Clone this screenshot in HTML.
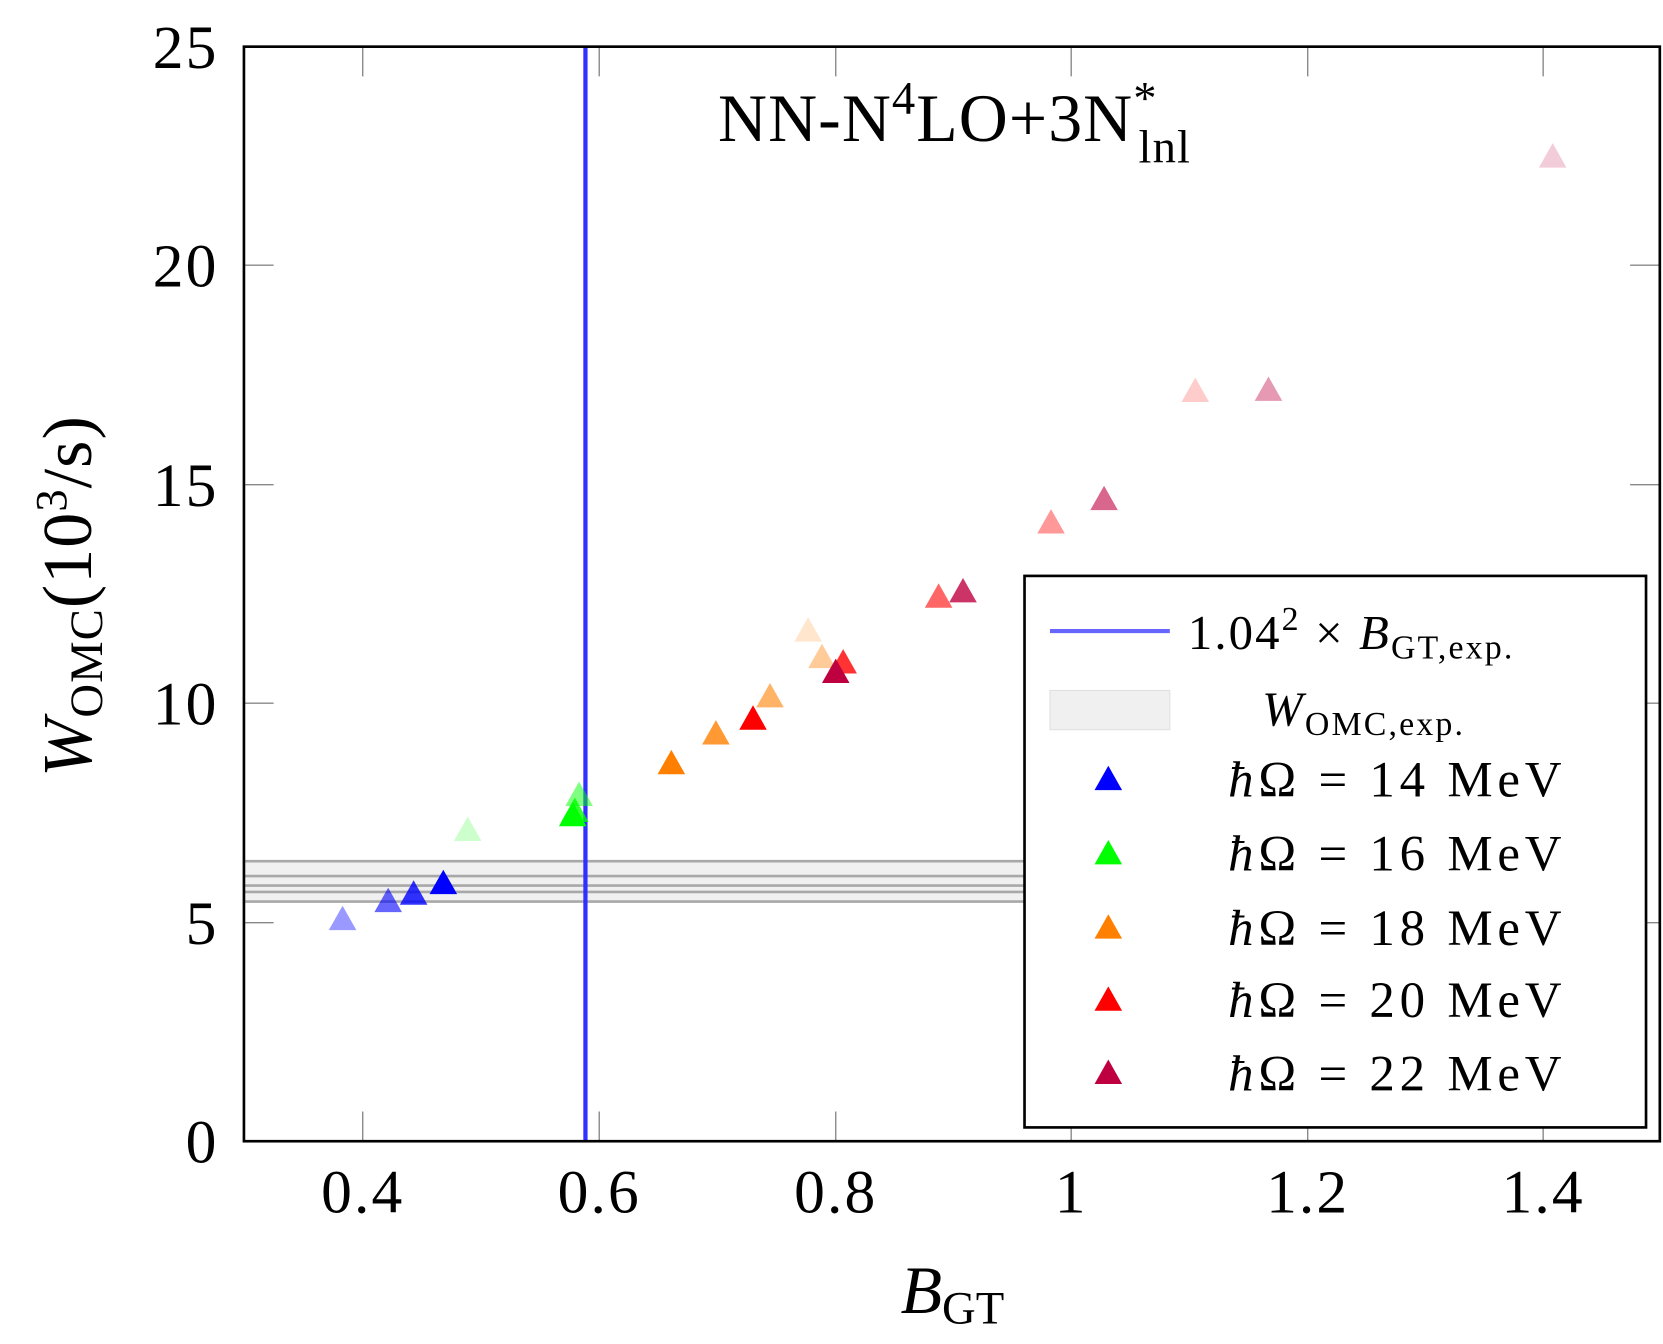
<!DOCTYPE html>
<html><head><meta charset="utf-8"><style>html,body{margin:0;padding:0;background:#fff}svg{display:block}text{font-family:"Liberation Serif",serif;fill:#000}</style></head>
<body>
<svg width="1663" height="1344" viewBox="0 0 1568 1267.2" preserveAspectRatio="none" xmlns="http://www.w3.org/2000/svg">
<rect x="230" y="812" width="736" height="38" fill="#f0f0f0"/>
<g stroke="#a8a8a8" stroke-width="2.5">
<line x1="230" y1="812" x2="966" y2="812"/><line x1="230" y1="826" x2="966" y2="826"/><line x1="230" y1="835" x2="966" y2="835"/><line x1="230" y1="841" x2="966" y2="841"/><line x1="230" y1="850" x2="966" y2="850"/>
</g>
<g stroke="#888" stroke-width="1.3">
<line x1="342" y1="44" x2="342" y2="72"/><line x1="565" y1="44" x2="565" y2="72"/><line x1="788" y1="44" x2="788" y2="72"/><line x1="1010" y1="44" x2="1010" y2="72"/><line x1="1233" y1="44" x2="1233" y2="72"/><line x1="1455" y1="44" x2="1455" y2="72"/>
<line x1="342" y1="1076" x2="342" y2="1048"/><line x1="565" y1="1076" x2="565" y2="1048"/><line x1="788" y1="1076" x2="788" y2="1048"/><line x1="1010" y1="1076" x2="1010" y2="1048"/><line x1="1233" y1="1076" x2="1233" y2="1048"/><line x1="1455" y1="1076" x2="1455" y2="1048"/>
<line x1="230" y1="250" x2="258" y2="250"/><line x1="230" y1="457" x2="258" y2="457"/><line x1="230" y1="663" x2="258" y2="663"/><line x1="230" y1="870" x2="258" y2="870"/>
<line x1="1565" y1="250" x2="1537" y2="250"/><line x1="1565" y1="457" x2="1537" y2="457"/><line x1="1565" y1="663" x2="1537" y2="663"/><line x1="1565" y1="870" x2="1537" y2="870"/>
</g>
<line x1="552" y1="44" x2="552" y2="1076" stroke="#3030ff" stroke-width="4"/>
<g>
<polygon points="310,877 336,877 323,854" fill="#0000ff" fill-opacity="0.4"/>
<polygon points="353,860 379,860 366,837" fill="#0000ff" fill-opacity="0.6"/>
<polygon points="377,853 403,853 390,830" fill="#0000ff" fill-opacity="0.8"/>
<polygon points="405,843 431,843 418,820" fill="#0000ff"/>
<polygon points="428,793 454,793 441,770" fill="#00ff00" fill-opacity="0.2"/>
<polygon points="533,760 559,760 546,737" fill="#00ff00" fill-opacity="0.5"/>
<polygon points="529,775 555,775 542,752" fill="#00ff00" fill-opacity="0.8"/>
<polygon points="527,779 553,779 540,756" fill="#00ff00"/>
<polygon points="749,605 775,605 762,582" fill="#ff8000" fill-opacity="0.2"/>
<polygon points="762,630 788,630 775,607" fill="#ff8000" fill-opacity="0.4"/>
<polygon points="713,667 739,667 726,644" fill="#ff8000" fill-opacity="0.6"/>
<polygon points="662,702 688,702 675,679" fill="#ff8000" fill-opacity="0.8"/>
<polygon points="620,730 646,730 633,707" fill="#ff8000"/>
<polygon points="1114,379 1140,379 1127,356" fill="#ff0000" fill-opacity="0.2"/>
<polygon points="978,503 1004,503 991,480" fill="#ff0000" fill-opacity="0.4"/>
<polygon points="872,573 898,573 885,550" fill="#ff0000" fill-opacity="0.6"/>
<polygon points="782,635 808,635 795,612" fill="#ff0000" fill-opacity="0.8"/>
<polygon points="697,688 723,688 710,665" fill="#ff0000"/>
<polygon points="1451,158 1477,158 1464,135" fill="#bf0040" fill-opacity="0.2"/>
<polygon points="1183,378 1209,378 1196,355" fill="#bf0040" fill-opacity="0.4"/>
<polygon points="1028,481 1054,481 1041,458" fill="#bf0040" fill-opacity="0.6"/>
<polygon points="895,568 921,568 908,545" fill="#bf0040" fill-opacity="0.8"/>
<polygon points="775,644 801,644 788,621" fill="#bf0040"/>
</g>
<rect x="230" y="44" width="1335" height="1032" fill="none" stroke="#000" stroke-width="2.5"/>
<g font-size="58" text-anchor="middle" letter-spacing="2">
<text x="342" y="1143">0.4</text><text x="565" y="1143">0.6</text><text x="788" y="1143">0.8</text><text x="1010" y="1143">1</text><text x="1233" y="1143">1.2</text><text x="1455" y="1143">1.4</text>
</g>
<g font-size="58" text-anchor="end" letter-spacing="2">
<text x="206" y="64">25</text><text x="206" y="270">20</text><text x="206" y="477">15</text><text x="206" y="683">10</text><text x="206" y="890">5</text><text x="206" y="1096">0</text>
</g>
<text x="898" y="1238" font-size="64" text-anchor="middle"><tspan font-style="italic">B</tspan><tspan font-size="44" dy="10">GT</tspan></text>
<text transform="translate(86,562) rotate(-90)" font-size="66" text-anchor="middle" letter-spacing="1"><tspan font-style="italic">W</tspan><tspan font-size="44" dy="10">OMC</tspan><tspan dy="-10">(10</tspan><tspan font-size="42" dy="-24">3</tspan><tspan dy="24">/s)</tspan></text>
<text x="900" y="133" font-size="64" text-anchor="middle" letter-spacing="1">NN-N<tspan font-size="44" dy="-26">4</tspan><tspan dy="26">LO+3N</tspan><tspan font-size="44" dy="-26">*</tspan><tspan font-size="44" dx="-18" dy="46">lnl</tspan></text>
<rect x="966" y="543" width="586" height="520" fill="#fff" stroke="#000" stroke-width="2.5"/>
<line x1="990" y1="595" x2="1103" y2="595" stroke="#6666ff" stroke-width="4"/>
<text x="1120" y="612" font-size="46" letter-spacing="2">1.04<tspan font-size="32" dy="-18">2</tspan><tspan dy="18"> × </tspan><tspan font-style="italic">B</tspan><tspan font-size="32" dy="9">GT,exp.</tspan></text>
<rect x="990" y="651" width="113" height="37" fill="#f0f0f0" stroke="#e0e0e0"/>
<text x="1190" y="684" font-size="46" letter-spacing="2"><tspan font-style="italic">W</tspan><tspan font-size="32" dy="9">OMC,exp.</tspan></text>
<polygon points="1032,745 1058,745 1045,722" fill="#0000ff"/>
<polygon points="1032,815 1058,815 1045,792" fill="#00ff00"/>
<polygon points="1032,885 1058,885 1045,862" fill="#ff8000"/>
<polygon points="1032,953 1058,953 1045,930" fill="#ff0000"/>
<polygon points="1032,1022 1058,1022 1045,999" fill="#bf0040"/>
<g font-size="48" letter-spacing="4.5">
<text x="1158" y="751"><tspan font-style="italic">ħ</tspan>Ω = 14 MeV</text>
<text x="1158" y="821"><tspan font-style="italic">ħ</tspan>Ω = 16 MeV</text>
<text x="1158" y="891"><tspan font-style="italic">ħ</tspan>Ω = 18 MeV</text>
<text x="1158" y="959"><tspan font-style="italic">ħ</tspan>Ω = 20 MeV</text>
<text x="1158" y="1028"><tspan font-style="italic">ħ</tspan>Ω = 22 MeV</text>
</g>
</svg>
</body></html>
